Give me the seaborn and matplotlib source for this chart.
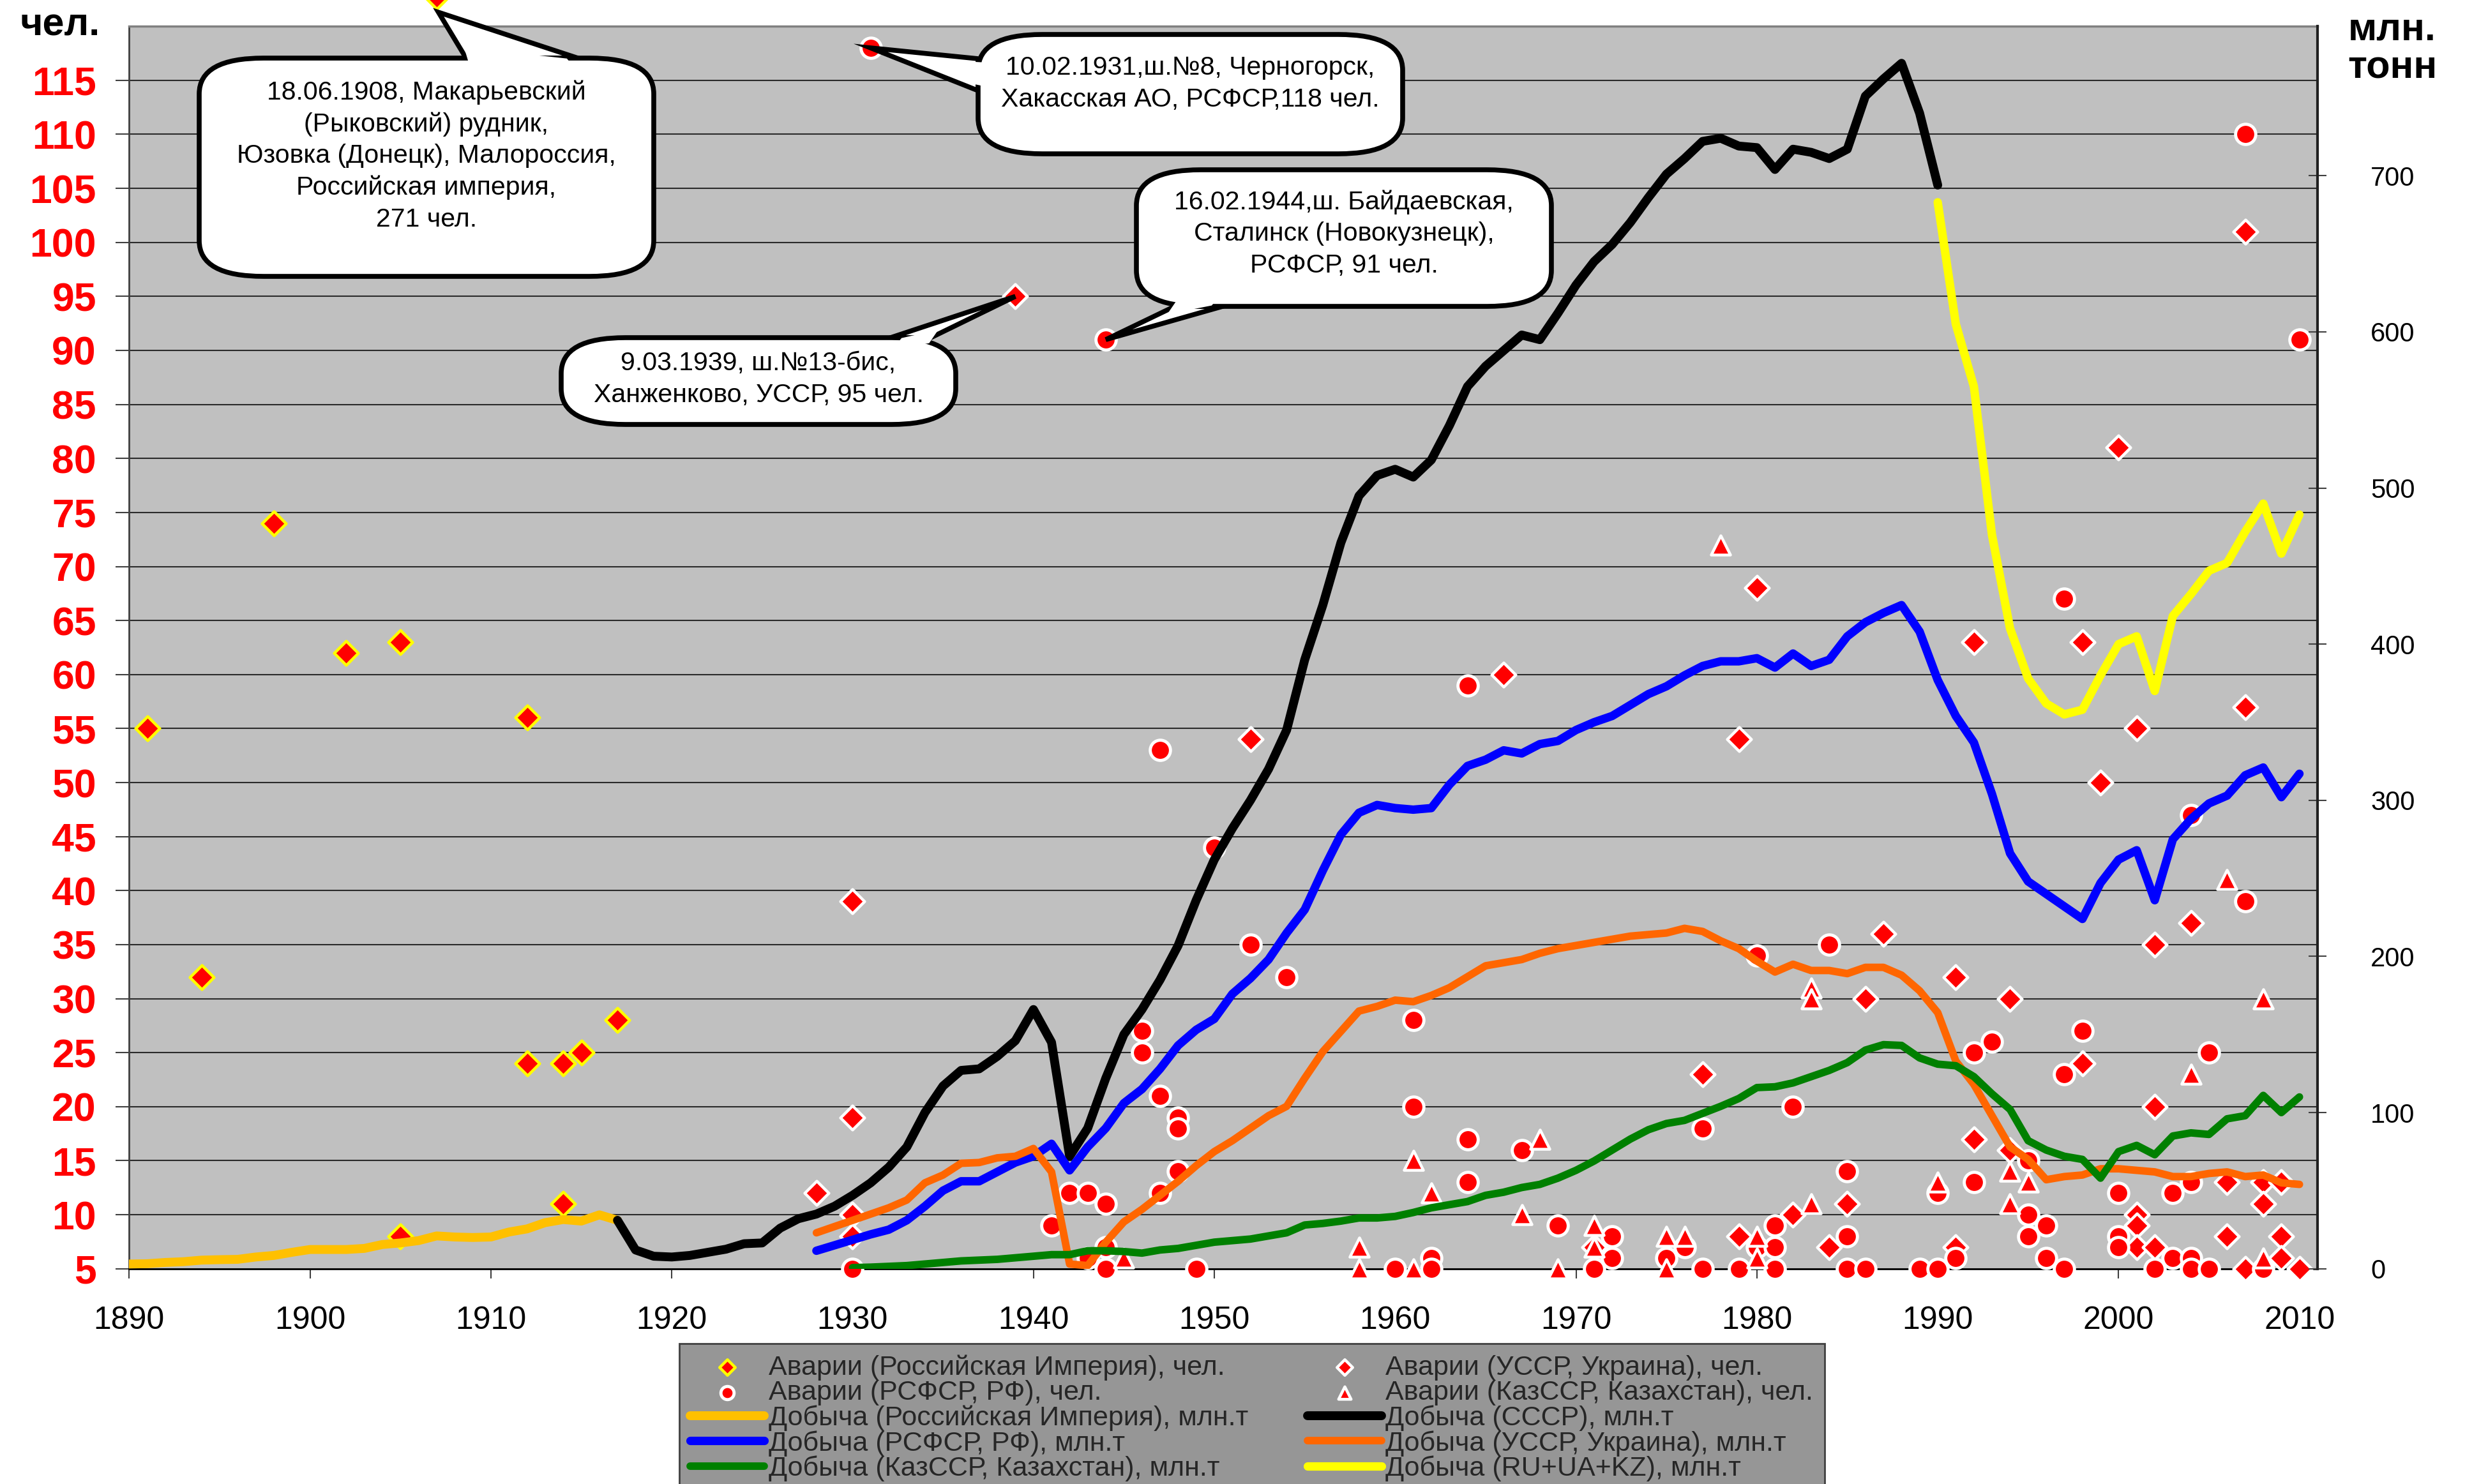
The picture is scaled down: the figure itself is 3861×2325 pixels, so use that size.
import matplotlib
matplotlib.use("Agg")
import matplotlib.pyplot as plt
import seaborn as sns
import pandas as pd
import numpy as np
from matplotlib.patches import Polygon, FancyBboxPatch
from matplotlib.transforms import IdentityTransform, Affine2D

# ---------------- data ----------------
# Accidents (deaths per accident), left axis "чел."
emp_acc_year = [1891, 1894, 1898, 1902, 1905, 1905, 1907, 1912, 1912, 1914, 1914, 1915, 1917]
# 1908 accident (271 чел.) is off-scale: it is drawn at the top edge of the chart
emp_acc_dead = [55, 32, 74, 62, 63, 8, 122.7, 56, 24, 24, 11, 25, 28]

ukr_acc_year = [1928, 1930, 1930, 1930, 1930, 1939, 1952, 1966, 1971, 1977, 1979, 1979, 1980,
                1982, 1984, 1985, 1986, 1987, 1991, 1991, 1992, 1992, 1994, 1994, 1998, 1998,
                1999, 2000, 2001, 2001, 2001, 2001, 2002, 2002, 2002, 2004, 2006, 2006, 2007,
                2007, 2007, 2008, 2008, 2009, 2009, 2009, 2010]
ukr_acc_dead = [12, 39, 19, 10, 8, 95, 54, 60, 7, 23, 54, 8, 68,
                10, 7, 11, 30, 36, 32, 7, 63, 17, 30, 16, 63, 24,
                50, 81, 55, 10, 9, 7, 35, 20, 7, 37, 13, 8, 101,
                57, 5, 13, 11, 13, 8, 6, 5]

rf_acc_year = [1930, 1931, 1941, 1942, 1943, 1943, 1944, 1944, 1944, 1944, 1946, 1946, 1947,
               1947, 1947, 1948, 1948, 1948, 1949, 1950, 1952, 1954, 1960, 1961, 1961, 1962,
               1962, 1964, 1964, 1964, 1967, 1969, 1971, 1972, 1972, 1975, 1976, 1977, 1977,
               1979, 1980, 1980, 1981, 1981, 1981, 1982, 1984, 1985, 1985, 1985, 1986, 1989,
               1990, 1990, 1991, 1992, 1992, 1993, 1995, 1995, 1995, 1996, 1996, 1997, 1997,
               1997, 1998, 2000, 2000, 2000, 2002, 2003, 2003, 2004, 2004, 2004, 2004, 2005,
               2005, 2007, 2007, 2008, 2010]
rf_acc_dead = [5, 118, 9, 12, 12, 6, 91, 11, 7, 5, 27, 25, 53,
               21, 12, 19, 18, 14, 5, 44, 35, 32, 5, 28, 20, 6,
               5, 59, 17, 13, 16, 9, 5, 8, 6, 6, 7, 18, 5,
               5, 34, 7, 9, 7, 5, 20, 35, 14, 8, 5, 5, 5,
               12, 5, 6, 25, 13, 26, 15, 10, 8, 9, 6, 67, 23,
               5, 27, 12, 8, 7, 5, 12, 6, 47, 13, 6, 5, 25,
               5, 110, 39, 5, 91]

kaz_acc_year = [1945, 1958, 1958, 1961, 1961, 1962, 1967, 1968, 1969, 1971, 1971, 1975, 1975,
                1976, 1978, 1980, 1980, 1983, 1983, 1983, 1990, 1994, 1994, 1995, 2004, 2006,
                2008, 2008]
kaz_acc_dead = [6, 7, 5, 15, 5, 12, 10, 17, 5, 9, 7, 8, 5,
                8, 72, 8, 6, 31, 30, 11, 13, 14, 11, 13, 23, 41,
                30, 6]

# Coal output, right axis "млн. тонн"
emp_prod_year = list(range(1890, 1918))
emp_prod = [3, 3.2, 4, 4.5, 5.5, 5.8, 6, 7.5, 8.5, 10.5, 12.3, 12.3, 12.3, 13, 15.5, 16.5,
            18, 21, 20.3, 20, 20.3, 23.5, 25.5, 29.5, 31.5, 30.5, 34.5, 31]

ussr_year = list(range(1917, 1991))
ussr_prod = [31, 12, 8, 7.5, 8.5, 10.5, 12.5, 16, 16.5, 26, 32, 35, 40, 47, 55, 65, 78, 100,
             117, 127, 128, 136, 146, 166, 145, 72, 90, 122, 150, 166, 185, 207, 236, 262,
             282, 300, 320, 345, 390, 425, 465, 495, 508, 512, 507, 518, 540, 565, 578, 588,
             598, 595, 612, 630, 645, 656, 670, 686, 701, 711, 722, 724, 719, 718, 704, 717,
             715, 711, 717, 751, 762, 772, 740, 694]

rf_year = list(range(1928, 2011))
rf_prod = [11.5, 15, 18.5, 22, 25, 31, 40, 50, 56, 56, 62, 68, 72, 80, 63, 78, 90, 106, 115,
           128, 143, 153, 160, 176, 186, 198, 215, 230, 255, 278, 292, 297, 295, 294, 295,
           310, 322, 326, 332, 330, 336, 338, 345, 350, 354, 361, 368, 373, 380, 386, 389,
           389, 391, 385, 394, 386, 390, 405, 414, 420, 425, 408, 377, 354, 337, 304, 266,
           248, 240, 232, 224, 247, 262, 268, 236, 275, 288, 298, 303, 316, 321, 302, 317]

ua_year = list(range(1928, 2011))
ua_prod = [23, 27, 31, 35, 39, 44, 55, 60, 67.5, 68, 71, 72, 77, 62, 3, 2, 17, 30, 38, 47,
           56, 66, 75, 82, 90, 98, 104, 122, 139, 152, 165, 168, 172, 171, 175, 180, 187,
           194, 196, 198, 202, 205, 207, 209, 211, 213, 214, 215, 218, 216, 210, 205, 197,
           190, 195, 191, 191, 189, 193, 193, 188, 178, 164, 133, 118, 98, 78, 70, 57, 59,
           60, 64, 64, 63, 62, 59, 59, 61, 62, 59, 60, 55, 54]

kz_year = list(range(1930, 2011))
kz_prod = [0.7, 1, 1.5, 2, 3, 4, 5, 5.5, 6, 7, 8, 9, 9, 11.5, 11.5, 11, 10, 12, 13, 15, 17,
           18, 19, 21, 23, 28, 29, 30.5, 32.5, 32.5, 33.5, 36, 39, 41, 43, 47, 49, 52, 54,
           58, 63, 69, 76, 83, 89, 93, 95, 99.5, 104, 109, 116, 116.5, 119, 123, 127, 132,
           140, 143.5, 143, 135, 131, 130, 123, 112, 102, 82, 76, 72, 70, 58, 75, 79, 73, 85,
           87, 86, 96, 98, 111, 100, 110]

sum_year = list(range(1990, 2011))
sum_prod = [683, 605, 565, 470, 410, 378, 362, 355, 358, 380, 400, 405, 370, 418, 432, 447,
            452, 472, 490, 458, 483]

lbl_emp_acc = "Аварии (Российская Империя), чел."
lbl_ukr_acc = "Аварии (УССР, Украина), чел."
lbl_rf_acc = "Аварии (РСФСР, РФ), чел."
lbl_kaz_acc = "Аварии (КазССР, Казахстан), чел."
lbl_emp_prod = "Добыча (Российская Империя), млн.т"
lbl_ussr_prod = "Добыча (СССР), млн.т"
lbl_rf_prod = "Добыча (РСФСР, РФ), млн.т"
lbl_ua_prod = "Добыча (УССР, Украина), млн.т"
lbl_kz_prod = "Добыча (КазССР, Казахстан), млн.т"
lbl_sum_prod = "Добыча (RU+UA+KZ), млн.т"

note_1908 = ("18.06.1908, Макарьевский\n(Рыковский) рудник,\nЮзовка (Донецк), Малороссия,\n"
             "Российская империя,\n271 чел.")
note_1931 = "10.02.1931,ш.№8, Черногорск,\nХакасская АО, РСФСР,118 чел."
note_1944 = "16.02.1944,ш. Байдаевская,\nСталинск (Новокузнецк),\nРСФСР, 91 чел."
note_1939 = "9.03.1939, ш.№13-бис,\nХанженково, УССР, 95 чел."

x_ticks = list(range(1890, 2011, 10))
left_ticks = list(range(5, 120, 5))
right_ticks = list(range(0, 800, 100))

# ---------------- style ----------------
sns.set_theme(style="white")
plt.rcParams["font.family"] = ["Liberation Sans", "DejaVu Sans"]

W, H = 3861, 2325
fig = plt.figure(figsize=(W / 100, H / 100), dpi=100)
fig.patch.set_facecolor("white")
x0, x1, ytop, ybot = 202.3, 3630, 41.2, 1987.7
ax1 = fig.add_axes([x0 / W, 1 - ybot / H, (x1 - x0) / W, (ybot - ytop) / H])
ax1.set_facecolor("#C0C0C0")
ax2 = ax1.twinx()

# ---------------- accidents (left axis) ----------------
common = dict(ax=ax1, color="#FF0000", clip_on=False, zorder=3, legend=False)
sns.scatterplot(x=emp_acc_year, y=emp_acc_dead, marker="D", s=370, edgecolor="#FFFF00",
                linewidth=3.2, label=lbl_emp_acc, **common)
sns.scatterplot(x=ukr_acc_year, y=ukr_acc_dead, marker="D", s=370, edgecolor="white",
                linewidth=3.2, label=lbl_ukr_acc, **common)
sns.scatterplot(x=rf_acc_year, y=rf_acc_dead, marker="o", s=520, edgecolor="white",
                linewidth=3.5, label=lbl_rf_acc, **common)
sns.scatterplot(x=kaz_acc_year, y=kaz_acc_dead, marker="^", s=470, edgecolor="white",
                linewidth=3.2, label=lbl_kaz_acc, **common)

# ---------------- production (right axis) ----------------
lkw = dict(ax=ax2, sort=False, estimator=None, legend=False,
           solid_capstyle="round", solid_joinstyle="round")
sns.lineplot(x=emp_prod_year, y=emp_prod, color="#FFC000", linewidth=10, label=lbl_emp_prod, **lkw)
sns.lineplot(x=ussr_year, y=ussr_prod, color="black", linewidth=10, label=lbl_ussr_prod, **lkw)
sns.lineplot(x=rf_year, y=rf_prod, color="#0000FF", linewidth=9.5, label=lbl_rf_prod, **lkw)
sns.lineplot(x=ua_year, y=ua_prod, color="#FF6600", linewidth=8.5, label=lbl_ua_prod, **lkw)
sns.lineplot(x=kz_year, y=kz_prod, color="#008000", linewidth=8.5, label=lbl_kz_prod, **lkw)
sns.lineplot(x=sum_year, y=sum_prod, color="#FFFF00", linewidth=9.5, label=lbl_sum_prod, **lkw)

# ---------------- axes ----------------
ax1.set_xlim(1890, 2011)
ax1.set_ylim(5, 120)
ax2.set_ylim(0, 795.7)
ax1.set_xticks(x_ticks)
ax1.set_xticklabels([str(v) for v in x_ticks])
ax1.set_yticks(left_ticks)
ax1.set_yticklabels([str(v) for v in left_ticks])
ax2.set_yticks(right_ticks)
ax2.set_yticklabels([str(v) for v in right_ticks])
ax1.set_xlabel("")
ax1.set_ylabel("")
ax2.set_ylabel("")

ax1.yaxis.grid(True, color="#2a2a2a", linewidth=1.5)
ax1.xaxis.grid(False)
ax1.set_axisbelow(True)

ax1.tick_params(axis="y", direction="out", length=15, width=1.5, color="#404040",
                labelcolor="#FF0000", labelsize=45, pad=22, left=True)
for t in ax1.get_yticklabels():
    t.set_fontweight("bold")
ax1.tick_params(axis="x", direction="out", length=11, width=1.5, color="#404040",
                labelcolor="black", labelsize=36, pad=31, bottom=True)
ax2.tick_params(axis="y", direction="inout", length=20, width=1.5, color="#404040",
                labelcolor="black", labelsize=30, pad=50, right=True)

for name, sp in ax1.spines.items():
    sp.set_visible(name in ("left", "bottom", "top"))
ax1.spines["top"].set_color("#808080")
ax1.spines["top"].set_linewidth(2.5)
ax1.spines["left"].set_color("#404040")
ax1.spines["left"].set_linewidth(2)
ax1.spines["bottom"].set_color("black")
ax1.spines["bottom"].set_linewidth(2)
for name, sp in ax2.spines.items():
    sp.set_visible(name == "right")
ax2.spines["right"].set_color("#202020")
ax2.spines["right"].set_linewidth(3)

# axis titles
fig.text(94 / W, 1 - 40 / H, "чел.", ha="center", va="center", fontsize=44,
         fontweight="bold", color="black")
fig.text(3747 / W, 1 - 77 / H, "млн.\nтонн", ha="center", va="center", fontsize=44,
         fontweight="bold", color="black", linespacing=1.05)

# ---------------- callouts (speech bubbles) ----------------
ident = IdentityTransform()
SX = 1.8          # horizontal stretch of the rounded corners
R = 56            # corner radius (vertical, px)
LW = 5.5          # outline width, pt


def unit(v):
    return v / np.hypot(*v)


def bubble(text, box, text_c, base1, base2, into, tip_data):
    """box = (left, right, top, bottom) in image px; bases in image px;
    into = direction into the box (display coords); tip from data coords."""
    l, r, t, b = box
    tip = ax1.transData.transform(tip_data)
    b1 = np.array([base1[0], H - base1[1]], float)
    b2 = np.array([base2[0], H - base2[1]], float)
    n_in = np.array(into, float)
    # tail with outline (below the box)
    fig.add_artist(Polygon([b1, tip, b2], closed=True, fc="white", ec="black", lw=LW,
                           joinstyle="miter", transform=ident, zorder=20))
    # rounded box (x coordinates compressed, then stretched back => elliptic corners)
    tr = Affine2D().scale(SX, 1.0)
    bw, bh = (r - l) / SX, (b - t)
    box_patch = FancyBboxPatch(((l / SX) + R, (H - b) + R), bw - 2 * R, bh - 2 * R,
                               boxstyle=f"round,pad={R},rounding_size={R}",
                               fc="white", ec="black", lw=LW, transform=tr, zorder=21)
    fig.add_artist(box_patch)
    # white cover hiding the box outline where the tail joins it
    inset = 6.0

    def side_normal(p, other):
        d = unit(tip - p)
        n = np.array([-d[1], d[0]])
        if np.dot(n, other - p) < 0:
            n = -n
        return d, n

    d1, nn1 = side_normal(b1, b2)
    d2, nn2 = side_normal(b2, b1)
    c1 = b1 + inset * nn1 + 14 * n_in
    c2 = b2 + inset * nn2 + 14 * n_in
    s1 = b1 + 16 * d1 + inset * nn1
    s2 = b2 + 16 * d2 + inset * nn2
    fig.add_artist(Polygon([c1, s1, s2, c2], closed=True, fc="white", ec="none",
                           transform=ident, zorder=22))
    fig.text(text_c[0] / W, 1 - text_c[1] / H, text, ha="center", va="center",
             fontsize=29.5, linespacing=1.38, color="black", zorder=23)


bubble(note_1908, (312, 1024, 91, 433), (668, 244), (730, 91), (905, 91), (0, -1),
       (1907.1, 121.3))
bubble(note_1931, (1532, 2197, 54, 241), (1864, 131), (1532, 92), (1532, 142), (1, 0),
       (1931, 118))
bubble(note_1944, (1780, 2430, 266, 480), (2105, 366), (1840, 480), (1915, 480), (0, 1),
       (1944, 91))
bubble(note_1939, (879, 1497, 529, 665), (1188, 594), (1395, 529), (1458, 529), (0, -1),
       (1939, 95))

# ---------------- legend ----------------
h1, l1 = ax1.get_legend_handles_labels()
h2, l2 = ax2.get_legend_handles_labels()
hd = dict(zip(l1 + l2, h1 + h2))
order = [lbl_emp_acc, lbl_rf_acc, lbl_emp_prod, lbl_rf_prod, lbl_kz_prod,
         lbl_ukr_acc, lbl_kaz_acc, lbl_ussr_prod, lbl_ua_prod, lbl_sum_prod]
for a in (ax1, ax2):
    if a.get_legend() is not None:
        a.get_legend().remove()
leg = fig.legend([hd[k] for k in order], order, ncol=2, loc="upper left",
                 bbox_to_anchor=(1064 / W, 1 - 2105 / H), fontsize=31,
                 labelspacing=-0.02, handlelength=2.7, handletextpad=0.15,
                 columnspacing=2.15, borderpad=0.4, borderaxespad=0,
                 frameon=True, fancybox=False, facecolor="#969696",
                 edgecolor="#404040", framealpha=1, markerscale=0.65)
leg.get_frame().set_linewidth(2)

fig.savefig("out.png", dpi=100, facecolor="white")
